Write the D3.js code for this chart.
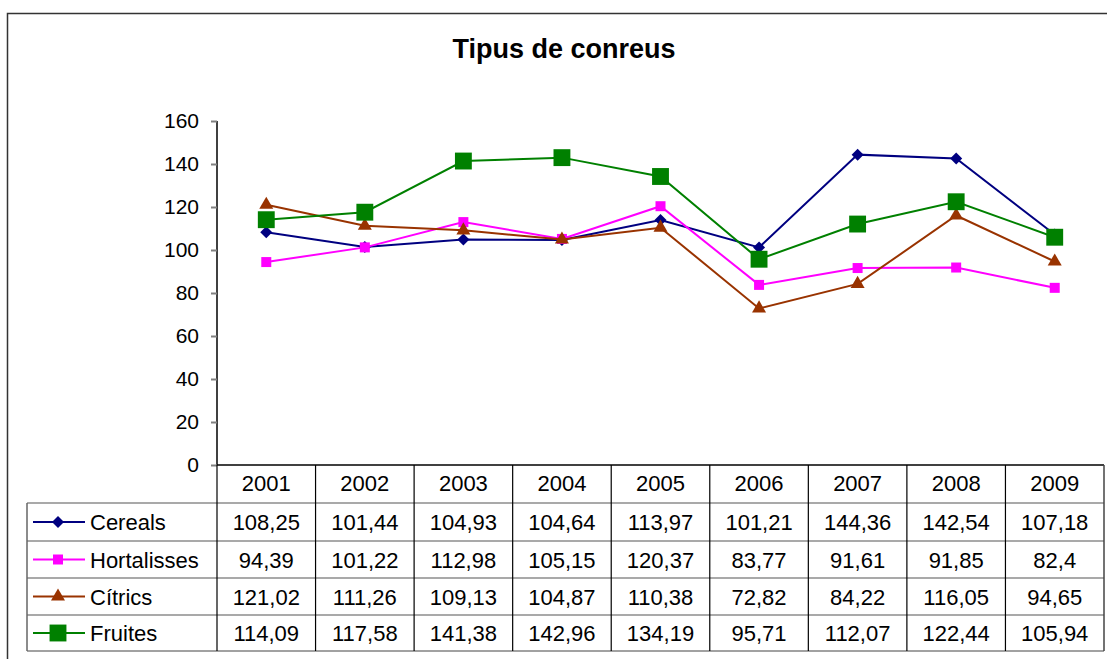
<!DOCTYPE html>
<meta charset="utf-8">
<style>
  body { margin: 0; background: #fff; }
  text { font-family: "Liberation Sans", Arial, sans-serif; }
</style>
<body>
<script src="https://d3js.org/d3.v7.min.js"></script>
<div id="chart"></div>
<script>

// data
var years = ["2001", "2002", "2003", "2004", "2005", "2006", "2007", "2008", "2009"];
var cereals     = [108.25, 101.44, 104.93, 104.64, 113.97, 101.21, 144.36, 142.54, 107.18];
var hortalisses = [94.39, 101.22, 112.98, 105.15, 120.37, 83.77, 91.61, 91.85, 82.4];
var citrics     = [121.02, 111.26, 109.13, 104.87, 110.38, 72.82, 84.22, 116.05, 94.65];
var fruites     = [114.09, 117.58, 141.38, 142.96, 134.19, 95.71, 112.07, 122.44, 105.94];
var yTicks = [0, 20, 40, 60, 80, 100, 120, 140, 160];

// square diamond (rotated square), d3's own diamond is too tall
var squareDiamond = {
  draw: function(ctx, size) {
    var r = Math.sqrt(size / 2);
    ctx.moveTo(0, -r); ctx.lineTo(r, 0); ctx.lineTo(0, r); ctx.lineTo(-r, 0); ctx.closePath();
  }
};

var series = [
  {label: "Cereals",     values: cereals,     color: "#000080", shape: squareDiamond,    size: 72},
  {label: "Hortalisses", values: hortalisses, color: "#ff00ff", shape: d3.symbolSquare,   size: 100},
  {label: "Cítrics",     values: citrics,     color: "#993300", shape: d3.symbolTriangle, size: 85},
  {label: "Fruites",     values: fruites,     color: "#008000", shape: d3.symbolSquare,   size: 285}
];

var W = 1107, H = 659;
var plot = {left: 217, right: 1104, top: 121, bottom: 465};
var rowH = [503, 541, 578, 615, 651]; // table row bottoms
var legendLeft = 27;
var fs = "22px";

var svg = d3.select("#chart").append("svg")
  .attr("width", W).attr("height", H);

// outer frame
svg.append("rect")
  .attr("x", 7.5).attr("y", 13.5)
  .attr("width", 1110).attr("height", 660)
  .attr("fill", "none").attr("stroke", "#333").attr("stroke-width", 1.5);

svg.append("text")
  .attr("x", 564).attr("y", 58)
  .attr("text-anchor", "middle")
  .style("font-size", "27px").style("font-weight", "bold")
  .text("Tipus de conreus");

var x = d3.scaleBand().domain(years).range([plot.left, plot.right]);
var y = d3.scaleLinear().domain([0, 160]).range([plot.bottom, plot.top]);

// Y axis
var yAxis = svg.append("g")
  .attr("transform", "translate(" + plot.left + ",0)")
  .call(d3.axisLeft(y).tickValues(yTicks).tickSize(6).tickPadding(12));
yAxis.select(".domain").attr("stroke", "#000").attr("stroke-width", 1.5).attr("d", "M0," + y(160) + "V" + y(0));
yAxis.selectAll(".tick line").attr("stroke", "#808080").attr("stroke-width", 2);
yAxis.selectAll(".tick text").style("font-size", "21px").attr("fill", "#000")
  .attr("font-family", "Liberation Sans, Arial, sans-serif");

// table
var tbl = svg.append("g");
tbl.append("line")
  .attr("x1", plot.left).attr("x2", plot.right)
  .attr("y1", y(0)).attr("y2", y(0))
  .attr("stroke", "#000").attr("stroke-width", 1.5);
rowH.forEach(function(r, i) {
  tbl.append("line")
    .attr("x1", legendLeft).attr("x2", plot.right)
    .attr("y1", r).attr("y2", r)
    .attr("stroke", i === rowH.length - 1 ? "#444" : "#555")
    .attr("stroke-width", 1.2);
});
years.forEach(function(yr) {
  tbl.append("line")
    .attr("x1", x(yr)).attr("x2", x(yr))
    .attr("y1", y(0)).attr("y2", rowH[rowH.length - 1])
    .attr("stroke", "#000").attr("stroke-width", 1.2);
});
tbl.append("line")
  .attr("x1", plot.right).attr("x2", plot.right)
  .attr("y1", y(0)).attr("y2", rowH[rowH.length - 1])
  .attr("stroke", "#444").attr("stroke-width", 1.5);
tbl.append("line")
  .attr("x1", legendLeft).attr("x2", legendLeft)
  .attr("y1", rowH[0]).attr("y2", rowH[rowH.length - 1])
  .attr("stroke", "#666").attr("stroke-width", 1.5);

tbl.selectAll(".yr").data(years).enter().append("text")
  .attr("x", function(d) { return x(d) + x.bandwidth() / 2; })
  .attr("y", 491)
  .attr("text-anchor", "middle")
  .style("font-size", fs)
  .text(function(d) { return d; });

var fmt = function(v) { return String(v).replace(".", ","); };

var line = d3.line()
  .x(function(d, i) { return x(years[i]) + x.bandwidth() / 2; })
  .y(function(d) { return y(d); });

series.forEach(function(s, si) {
  svg.append("path")
    .attr("d", line(s.values))
    .attr("fill", "none")
    .attr("stroke", s.color)
    .attr("stroke-width", 2);

  svg.selectAll(".m" + si).data(s.values).enter().append("path")
    .attr("transform", function(d, i) {
      return "translate(" + (x(years[i]) + x.bandwidth() / 2) + "," + y(d) + ")";
    })
    .attr("d", d3.symbol().type(s.shape).size(s.size))
    .attr("fill", s.color);

  var top = rowH[si], bot = rowH[si + 1], mid = (top + bot) / 2, cy = mid + 8;

  // legend key
  svg.append("line")
    .attr("x1", 33).attr("x2", 85)
    .attr("y1", mid).attr("y2", mid)
    .attr("stroke", s.color).attr("stroke-width", 2);
  svg.append("path")
    .attr("transform", "translate(58," + mid + ")")
    .attr("d", d3.symbol().type(s.shape).size(s.size))
    .attr("fill", s.color);
  svg.append("text")
    .attr("x", 90).attr("y", cy)
    .style("font-size", fs)
    .text(s.label);

  svg.selectAll(".v" + si).data(s.values).enter().append("text")
    .attr("x", function(d, i) { return x(years[i]) + x.bandwidth() / 2; })
    .attr("y", cy)
    .attr("text-anchor", "middle")
    .style("font-size", fs)
    .text(function(d) { return fmt(d); });
});

</script>
</body>
